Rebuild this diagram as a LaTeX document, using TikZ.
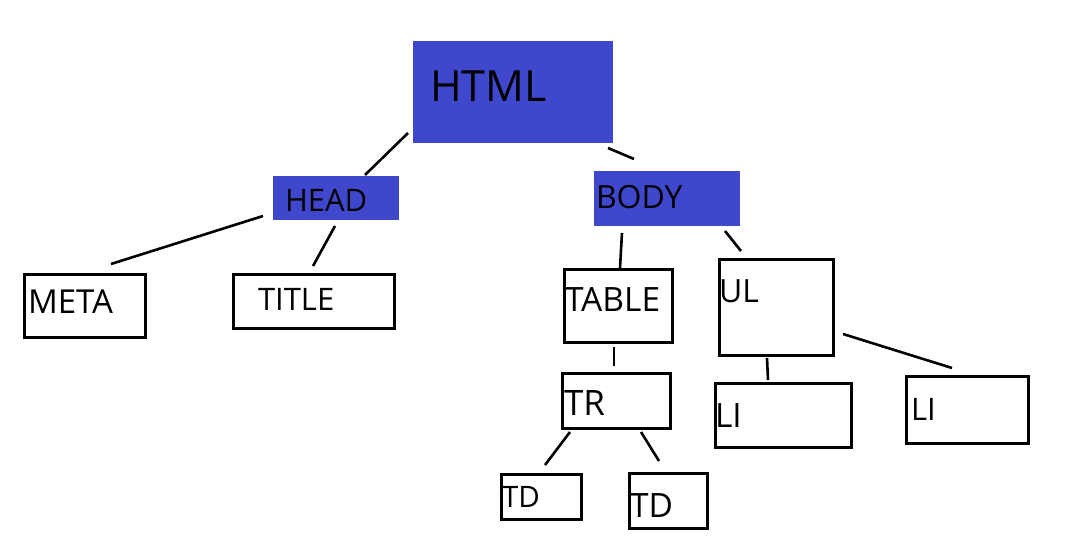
\documentclass[tikz,border=0pt]{standalone}
\usepackage{fontspec}
\setmainfont{Open Sans}
\definecolor{paintblue}{RGB}{63,72,204}
\tikzset{
  bluebox/.style={fill=paintblue, draw=none, anchor=north west, inner sep=0pt, outer sep=0pt},
  whitebox/.style={draw=black, line width=3pt, fill=white, anchor=north west, inner sep=0pt, outer sep=0pt},
  lbl/.style={anchor=base west, inner sep=0pt, outer sep=0pt, text=black},
  conn/.style={draw=black, line width=2.6pt},
}
\newcommand{\fs}[1]{\fontsize{#1}{#1}\selectfont}
\begin{document}
\begin{tikzpicture}[x=1pt,y=-1pt]
\useasboundingbox (0,0) rectangle (1092,545);
\fill[white] (0,0) rectangle (1092,545);
% blue boxes
\node[bluebox, minimum width=200, minimum height=102] (html) at (413,41) {};
\node[lbl] (htmlt) at (430,102) {\fs{43}HTML};
\node[bluebox, minimum width=126, minimum height=44] (head) at (273,176) {};
\node[lbl] (headt) at (285,211.5) {\fs{31}HEAD};
\node[bluebox, minimum width=146, minimum height=55] (body) at (594,171) {};
\node[lbl] (bodyt) at (596,209) {\fs{32}BODY};
% white boxes
\node[whitebox, minimum width=121, minimum height=62] (meta) at (24,275) {};
\node[lbl] (metat) at (28,313) {\fs{33}META};
\node[whitebox, minimum width=161, minimum height=53] (title) at (233,275) {};
\node[lbl] (titlet) at (258,311) {\fs{31}TITLE};
\node[whitebox, minimum width=108, minimum height=72] (table) at (564,270) {};
\node[lbl] (tablet) at (565,312) {\fs{33.5}TABLE};
\node[whitebox, minimum width=108, minimum height=55] (tr) at (562,373) {};
\node[lbl] (trt) at (564,415) {\fs{35}TR};
\node[whitebox, minimum width=80, minimum height=45] (tda) at (501,474) {};
\node[lbl] (tdat) at (502,507) {\fs{29.5}TD};
\node[whitebox, minimum width=78, minimum height=55] (tdb) at (629,473) {};
\node[lbl] (tdbt) at (630,517) {\fs{33.5}TD};
\node[whitebox, minimum width=114, minimum height=95] (ul) at (719,260) {};
\node[lbl] (ult) at (719,302) {\fs{32}UL};
\node[whitebox, minimum width=136, minimum height=64] (lia) at (715,383) {};
\node[lbl] (liat) at (715,427) {\fs{33.5}LI};
\node[whitebox, minimum width=122, minimum height=67] (lib) at (906,376) {};
\node[lbl] (libt) at (911,420) {\fs{31}LI};
% connector ends
\coordinate (c1a) at (408,133); \coordinate (c1b) at (365,175);
\coordinate (c2a) at (608,148); \coordinate (c2b) at (634,159);
\coordinate (c3a) at (263,216); \coordinate (c3b) at (111,264);
\coordinate (c4a) at (335,226); \coordinate (c4b) at (313,266);
\coordinate (c5a) at (622,233); \coordinate (c5b) at (620,268);
\coordinate (c6a) at (725,231); \coordinate (c6b) at (741,251);
\coordinate (c7a) at (614,347); \coordinate (c7b) at (614,366);
\coordinate (c8a) at (767,358); \coordinate (c8b) at (768,380);
\coordinate (c9a) at (843,334); \coordinate (c9b) at (952,368);
\coordinate (c10a) at (570,432); \coordinate (c10b) at (545,465);
\coordinate (c11a) at (641,432); \coordinate (c11b) at (659,461);
\draw[conn] (c1a) -- (c1b);
\draw[conn] (c2a) -- (c2b);
\draw[conn] (c3a) -- (c3b);
\draw[conn] (c4a) -- (c4b);
\draw[conn] (c5a) -- (c5b);
\draw[conn] (c6a) -- (c6b);
\draw[conn] (c7a) -- (c7b);
\draw[conn] (c8a) -- (c8b);
\draw[conn] (c9a) -- (c9b);
\draw[conn] (c10a) -- (c10b);
\draw[conn] (c11a) -- (c11b);
\end{tikzpicture}
\end{document}
